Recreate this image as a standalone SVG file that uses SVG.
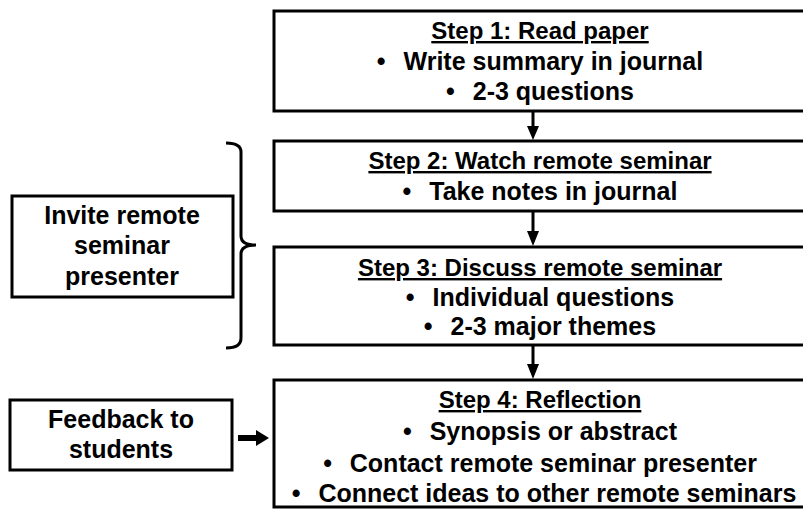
<svg xmlns="http://www.w3.org/2000/svg" width="803" height="510" viewBox="0 0 803 510">
<defs>
<style>
.box{fill:#fff;stroke:#000;stroke-width:3}
.t{font-family:"Liberation Sans",Arial,sans-serif;font-weight:bold;font-size:25px;fill:#000;text-anchor:middle}
.h{font-size:24px;text-decoration:underline}
.ln{stroke:#000;stroke-width:3;fill:none}
</style>
</defs>
<rect width="803" height="510" fill="#fff"/>
<g id="step1">
<rect class="box" x="274" y="11" width="533" height="100"/>
<text class="t h" x="540" y="39">Step 1: Read paper</text>
<text class="t" x="540" y="70">•&#160;&#160;<tspan dx="4">Write summary in journal</tspan></text>
<text class="t" x="540" y="100">•&#160;&#160;<tspan dx="4">2-3 questions</tspan></text>
</g>
<g id="step2">
<rect class="box" x="274" y="141" width="533" height="70"/>
<text class="t h" x="540" y="169">Step 2: Watch remote seminar</text>
<text class="t" x="540" y="200">•&#160;&#160;<tspan dx="4">Take notes in journal</tspan></text>
</g>
<g id="step3">
<rect class="box" x="274" y="247" width="533" height="98"/>
<text class="t h" x="540" y="276">Step 3: Discuss remote seminar</text>
<text class="t" x="540" y="306">•&#160;&#160;<tspan dx="4">Individual questions</tspan></text>
<text class="t" x="540" y="335">•&#160;&#160;<tspan dx="4">2-3 major themes</tspan></text>
</g>
<g id="step4">
<rect class="box" x="274" y="380" width="533" height="127"/>
<text class="t h" x="540" y="408">Step 4: Reflection</text>
<text class="t" x="540" y="440">•&#160;&#160;<tspan dx="4">Synopsis or abstract</tspan></text>
<text class="t" x="540" y="472">•&#160;&#160;<tspan dx="4">Contact remote seminar presenter</tspan></text>
<text class="t" x="544" y="502">•&#160;&#160;<tspan dx="4">Connect ideas to other remote seminars</tspan></text>
</g>
<g id="invite">
<rect class="box" x="12" y="196" width="221" height="101"/>
<text class="t" x="122" y="224">Invite remote</text>
<text class="t" x="122" y="254">seminar</text>
<text class="t" x="122" y="285">presenter</text>
</g>
<g id="feedback">
<rect class="box" x="10" y="400" width="222" height="70"/>
<text class="t" x="121" y="428">Feedback to</text>
<text class="t" x="121" y="458">students</text>
</g>
<g id="connectors">
<path class="ln" d="M533,111 V128"/>
<path d="M527,126 L539,126 L533,140 Z" fill="#000"/>
<path class="ln" d="M533,211 V233"/>
<path d="M527,231 L539,231 L533,246 Z" fill="#000"/>
<path class="ln" d="M533,345 V366"/>
<path d="M527,364 L539,364 L533,379 Z" fill="#000"/>
<path d="M238,438 H258" stroke="#000" stroke-width="6" fill="none"/>
<path d="M256,430 L269,438 L256,446 Z" fill="#000"/>
<path class="ln" d="M226,143 Q241,143 241,152 V236 Q241,245 256,245 Q241,245 241,254 V338 Q241,348 226,348"/>
</g>
</svg>
